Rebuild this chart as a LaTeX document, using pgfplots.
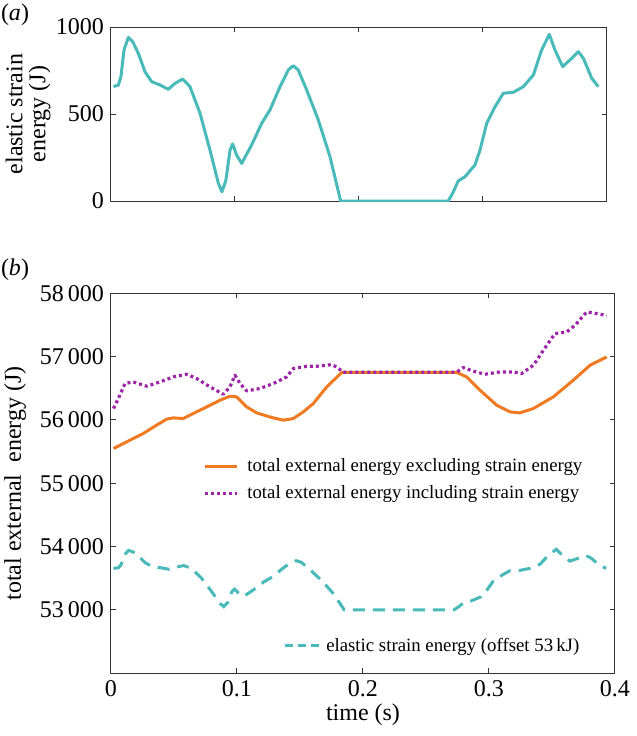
\documentclass[border=0pt]{standalone}
\usepackage{fontspec}
\setmainfont{Liberation Serif}
\usepackage{pgfplots}
\pgfplotsset{compat=1.18}
\usepackage{pgfplotstable}

\definecolor{strain}{RGB}{72,186,186}
\definecolor{excl}{RGB}{240,122,34}
\definecolor{incl}{RGB}{158,36,168}

% elastic strain energy (J)
\pgfplotstableread{
t E
0.002 657
0.006 667
0.008 714
0.0105 868
0.014 941
0.0175 916
0.022 849
0.0274 743
0.0328 686
0.0395 667
0.0462 642
0.0516 676
0.0578 701
0.0637 657
0.0718 504
0.0798 293
0.0866 102
0.0895 53
0.0927 121
0.096 293
0.0981 328
0.1013 264
0.1054 216
0.1134 322
0.1215 446
0.1282 523
0.1363 657
0.143 753
0.147 778
0.151 753
0.1578 638
0.1672 466
0.1766 255
0.1852 0
0.272 0
0.2761 53
0.28 115
0.2855 140
0.2935 207
0.2976 293
0.303 446
0.3097 542
0.3164 619
0.3245 625
0.3325 657
0.3406 724
0.3473 868
0.3535 958
0.358 868
0.3643 772
0.370 810
0.3769 858
0.381 820
0.3877 705
0.393 657
}\strain

% total external energy excluding strain energy (J)
\pgfplotstableread{
t E
0.002 55550
0.0125 55655
0.0256 55787
0.0362 55918
0.0442 56013
0.0494 56033
0.0574 56023
0.0653 56103
0.076 56207
0.0865 56312
0.0944 56375
0.0997 56365
0.1077 56207
0.1156 56112
0.1288 56033
0.1368 55997
0.1447 56023
0.1526 56128
0.1606 56260
0.1712 56522
0.1831 56750
0.2743 56750
0.2823 56680
0.2929 56470
0.3061 56233
0.3167 56128
0.3246 56112
0.3352 56181
0.351 56364
0.3669 56628
0.3802 56864
0.3934 56995
}\excl

% total external energy including strain energy (J)
\pgfplotstableread{
t E
0.002 56181
0.0058 56338
0.0111 56575
0.0177 56601
0.0283 56533
0.0389 56601
0.0494 56680
0.06 56722
0.068 56654
0.0786 56522
0.0891 56407
0.0944 56522
0.0984 56707
0.1024 56575
0.1077 56459
0.1183 56497
0.1288 56575
0.1394 56680
0.1447 56812
0.1553 56848
0.1632 56848
0.1751 56874
0.179 56837
0.1844 56754
0.2743 56754
0.2796 56828
0.2876 56770
0.2968 56722
0.3087 56759
0.3193 56759
0.3259 56733
0.3352 56864
0.3431 57100
0.3524 57365
0.3617 57390
0.3683 57495
0.3775 57705
0.3855 57680
0.3934 57650
}\incl

\pgfplotsset{
  base/.style={
    scale only axis,
    xmin=0, xmax=0.4,
    xtick={0,0.1,0.2,0.3,0.4},
    axis line style={black!80, line width=0.5pt},
    major tick style={black!80, line width=0.5pt},
    major tick length=2.5pt,
    tick label style={font=\fontsize{12}{14}\selectfont},
    label style={font=\fontsize{12}{11.5}\selectfont, inner sep=0pt},
    /pgf/number format/assume math mode=true,
    scaled ticks=false,
    line join=round,
  },
  shortline/.style={legend image code/.code={\draw[##1] (0pt,0pt) -- (16pt,0pt); \path (18.5pt,0pt);}},
  shortdash/.style={legend image code/.code={\draw[##1, dash pattern=on 4pt off 2.5pt] (0pt,0pt) -- (18pt,0pt);}},
}

\begin{document}
\begin{tikzpicture}
\path (0,0) rectangle (315.5pt,-368pt);

\node[font=\fontsize{12}{14}\selectfont, inner sep=0pt] at (7.5pt,-7.5pt) {(\textit{a})};
\node[font=\fontsize{12}{14}\selectfont, inner sep=0pt] at (7.5pt,-135pt) {(\textit{b})};

% (a)
\begin{axis}[base,
  at={(55.5pt,-100.5pt)}, anchor=south west,
  width=248pt, height=87pt,
  ymin=0, ymax=1000,
  ytick={0,500,1000},
  xticklabels={},
  /pgf/number format/1000 sep={},
  ylabel={elastic strain\\energy (J)},
  ylabel style={align=center, at={(axis description cs:-0.167,0.5)}, anchor=center},
]
\addplot[strain, line width=1.5pt] table[x=t, y=E] {\strain};
\end{axis}

% (b)
\begin{axis}[base,
  at={(55.5pt,-336.65pt)}, anchor=south west,
  width=252pt, height=190pt,
  ymin=52000, ymax=58000,
  ytick={53000,54000,55000,56000,57000,58000},
  /pgf/number format/fixed,
  /pgf/number format/1000 sep={\,},
  xlabel={time (s)},
  xlabel style={at={(axis description cs:0.5,-0.11)}, anchor=center},
  ylabel={total external\hspace{0.25em} energy (J)},
  ylabel style={at={(axis description cs:-0.19,0.5)}, anchor=center},
  legend cell align=left,
  legend style={draw=none, fill=none, inner sep=0pt,
    font=\fontsize{9.4}{11.5}\selectfont,
    at={(axis description cs:0.182,0.508)}, anchor=west, row sep=1.6pt},
]
\addplot[excl, line width=1.5pt, shortline] table[x=t, y=E] {\excl};
\addlegendentry{total external energy excluding strain energy}
\addplot[incl, line width=1.6pt, dash pattern=on 1.5pt off 1.5pt, shortline]
  table[x=t, y=E] {\incl};
\addlegendentry{total external energy including strain energy}
\end{axis}

% elastic strain energy offset by 53 kJ, own legend
\begin{axis}[
  scale only axis, hide axis,
  at={(55.5pt,-336.65pt)}, anchor=south west,
  width=252pt, height=190pt,
  xmin=0, xmax=0.4, ymin=52000, ymax=58000,
  legend cell align=left,
  legend style={draw=none, fill=none, inner sep=0pt,
    font=\fontsize{9.4}{11.5}\selectfont,
    at={(axis description cs:0.341,0.072)}, anchor=west},
]
\addplot[strain, line width=1.5pt, dash pattern=on 6pt off 4pt, shortdash]
  table[x=t, y expr=\thisrow{E}+53000] {\strain};
\addlegendentry{elastic strain energy (offset 53\,kJ)}
\end{axis}
\end{tikzpicture}
\end{document}
